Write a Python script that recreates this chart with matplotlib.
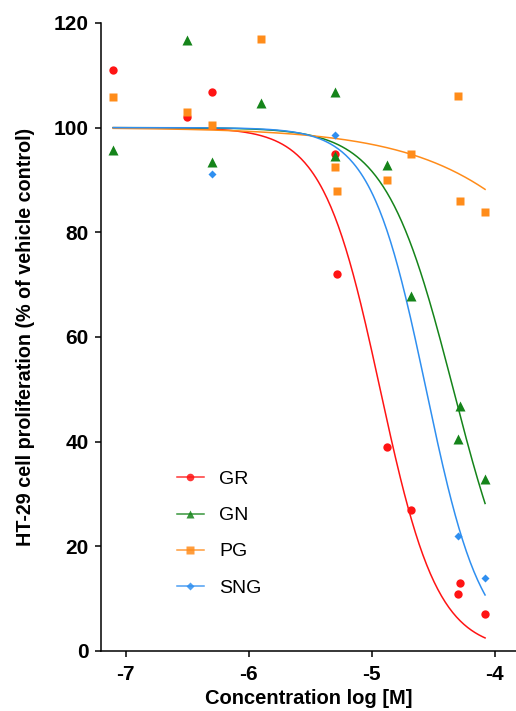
import numpy as np
import matplotlib.pyplot as plt

plt.rcParams['font.family'] = ['Liberation Sans', 'DejaVu Sans']
plt.rcParams['axes.unicode_minus'] = False

# measured points, x = log concentration [M], y = % of vehicle control
gr_x = [-7.1, -6.5, -6.3, -5.3, -5.28, -4.88, -4.68, -4.28, -4.30, -4.08]
gr_y = [111, 102, 106.8, 95, 72, 39, 27, 13, 10.8, 7]

gn_x = [-7.1, -6.5, -6.3, -5.9, -5.3, -5.3, -4.88, -4.68, -4.28, -4.30, -4.08]
gn_y = [95.7, 116.8, 93.5, 104.8, 106.8, 94.6, 92.9, 67.9, 46.8, 40.5, 32.9]

pg_x = [-7.1, -6.5, -6.3, -5.9, -5.3, -5.28, -4.88, -4.68, -4.30, -4.28, -4.08]
pg_y = [105.9, 102.9, 100.5, 116.9, 92.5, 87.9, 89.9, 94.9, 106.1, 85.9, 83.9]

sng_x = [-6.3, -5.3, -4.30, -4.08]
sng_y = [91.2, 98.6, 22.0, 14.0]

# fitted dose-response curves: (logIC50, hill slope)
fit_gr = (-4.932, 1.868)
fit_gn = (-4.338, 1.574)
fit_pg = (-2.756, 0.66)
fit_sng = (-4.559, 1.923)

labels = ['GR', 'GN', 'PG', 'SNG']
colors = ['#ff1414', '#15841a', '#ff8c1a', '#2f8ff0']
markers = ['o', '^', 's', 'D']
msizes = [6, 6.5, 6, 4.5]


def logistic(x, c, h):
    return 100.0 / (1 + 10 ** (h * (x - c)))


fig = plt.figure(figsize=(5.16, 7.11), dpi=100)
ax = fig.add_axes([0.1957, 0.0844, 0.804, 0.8833])

xs = np.linspace(-7.1, -4.08, 300)
series = [(gr_x, gr_y, fit_gr), (gn_x, gn_y, fit_gn),
          (pg_x, pg_y, fit_pg), (sng_x, sng_y, fit_sng)]
for (x, y, fit), lab, col, mk, ms in zip(series, labels, colors, markers, msizes):
    ax.plot(xs, logistic(xs, *fit), color=col, lw=1.1, zorder=2)
    ax.plot(x, y, ls='none', marker=mk, ms=ms, color=col, mec='none', zorder=3)
    # legend handle
    ax.plot([], [], color=col, lw=1.1, marker=mk, ms=ms - 0.5, mec='none', label=lab, alpha=0.85)

ax.set_xlim(-7.2, -3.83)
ax.set_ylim(0, 120)
ax.set_xticks([-7, -6, -5, -4])
ax.set_yticks([0, 20, 40, 60, 80, 100, 120])
ax.spines['top'].set_visible(False)
ax.spines['right'].set_visible(False)
ax.spines['left'].set_linewidth(1.1)
ax.spines['bottom'].set_linewidth(1.1)
ax.tick_params(direction='out', length=4, width=1.1, labelsize=15, pad=5)
ax.tick_params(axis='x', pad=6)
for t in ax.get_xticklabels() + ax.get_yticklabels():
    t.set_fontweight('bold')

ax.set_xlabel('Concentration log [M]', fontsize=14.5, fontweight='bold', labelpad=4)
ax.set_ylabel('HT-29 cell proliferation (% of vehicle control)', fontsize=14.2,
              fontweight='bold', labelpad=13)

ax.legend(loc='upper left', bbox_to_anchor=(0.14, 0.315), frameon=False, fontsize=14,
          handlelength=1.4, handletextpad=0.8, labelspacing=0.95)

fig.savefig('out.png', dpi=100)
